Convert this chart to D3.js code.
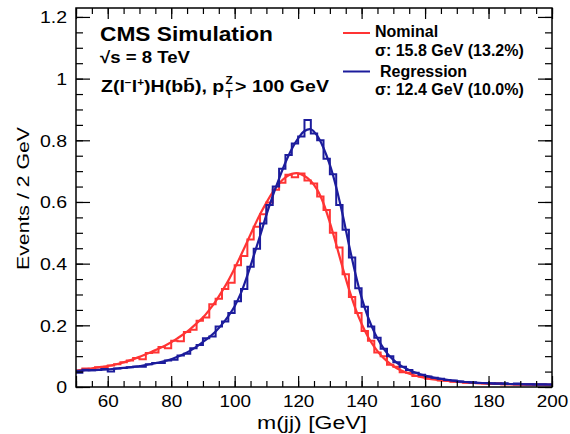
<!DOCTYPE html>
<html>
<head>
<meta charset="utf-8">
<script src="https://cdn.jsdelivr.net/npm/d3@7"></script>
<style>
  html, body { margin: 0; padding: 0; background: #fff; }
  svg { display: block; }
  text { font-family: "Liberation Sans", Arial, Helvetica, sans-serif; fill: #000; }
</style>
</head>
<body>
<svg id="chart" width="570" height="434"></svg>
<script>
// ---------------- data ----------------
const binWidth = 2;
const binLow = d3.range(50, 200, binWidth);   // 75 bins, 50..200 GeV

const nominalHist = [
  0.050, 0.060, 0.058, 0.064, 0.062, 0.070, 0.074, 0.080, 0.086, 0.094,
  0.090, 0.110, 0.112, 0.130, 0.126, 0.150, 0.148, 0.178, 0.186, 0.215,
  0.225, 0.268, 0.286, 0.318, 0.338, 0.395, 0.425, 0.478, 0.520, 0.560,
  0.598, 0.640, 0.662, 0.688, 0.680, 0.692, 0.670, 0.660, 0.618, 0.574,
  0.500, 0.452, 0.366, 0.292, 0.240, 0.182, 0.150, 0.112, 0.100, 0.072,
  0.066, 0.048, 0.046, 0.036, 0.034, 0.027, 0.025, 0.021, 0.020, 0.017,
  0.016, 0.014, 0.013, 0.012, 0.011, 0.010, 0.012, 0.009, 0.010, 0.008,
  0.009, 0.008, 0.007, 0.008, 0.007
];
const regressionHist = [
  0.046, 0.056, 0.054, 0.055, 0.058, 0.050, 0.060, 0.062, 0.064, 0.066,
  0.066, 0.074, 0.078, 0.078, 0.086, 0.088, 0.102, 0.108, 0.126, 0.136,
  0.158, 0.164, 0.196, 0.212, 0.240, 0.278, 0.318, 0.390, 0.448, 0.530,
  0.590, 0.650, 0.708, 0.752, 0.790, 0.812, 0.866, 0.822, 0.800, 0.740,
  0.690, 0.590, 0.510, 0.420, 0.320, 0.260, 0.196, 0.160, 0.124, 0.100,
  0.080, 0.066, 0.055, 0.046, 0.040, 0.034, 0.030, 0.027, 0.023, 0.021,
  0.018, 0.016, 0.015, 0.013, 0.013, 0.012, 0.011, 0.012, 0.010, 0.011,
  0.009, 0.009, 0.008, 0.008, 0.008
];

const fitX = d3.range(50, 201, 2);   // 76 sample points of the fitted curves
const nominalFit = [
  0.053, 0.056, 0.059, 0.062, 0.065, 0.068, 0.072, 0.077, 0.083, 0.090,
  0.098, 0.106, 0.115, 0.124, 0.134, 0.145, 0.158, 0.172, 0.188, 0.206,
  0.225, 0.250, 0.278, 0.310, 0.345, 0.385, 0.428, 0.472, 0.517, 0.560,
  0.598, 0.632, 0.660, 0.680, 0.691, 0.693, 0.684, 0.668, 0.640, 0.595,
  0.533, 0.462, 0.388, 0.318, 0.256, 0.205, 0.163, 0.130, 0.104, 0.084,
  0.068, 0.056, 0.047, 0.040, 0.034, 0.030, 0.026, 0.023, 0.021, 0.019,
  0.017, 0.015, 0.014, 0.013, 0.012, 0.011, 0.010, 0.0095, 0.009, 0.0085,
  0.008, 0.0078, 0.0076, 0.0074, 0.0072, 0.007
];
const regressionFit = [
  0.052, 0.053, 0.054, 0.055, 0.056, 0.057, 0.059, 0.061, 0.063, 0.065,
  0.068, 0.071, 0.075, 0.079, 0.084, 0.090, 0.098, 0.107, 0.118, 0.131,
  0.146, 0.162, 0.180, 0.203, 0.230, 0.262, 0.305, 0.362, 0.425, 0.490,
  0.558, 0.620, 0.676, 0.728, 0.772, 0.806, 0.830, 0.836, 0.815, 0.775,
  0.720, 0.648, 0.560, 0.462, 0.370, 0.290, 0.227, 0.178, 0.140, 0.110,
  0.088, 0.072, 0.060, 0.050, 0.043, 0.037, 0.032, 0.028, 0.025, 0.022,
  0.019, 0.017, 0.015, 0.014, 0.013, 0.012, 0.011, 0.0105, 0.010, 0.0095,
  0.009, 0.0088, 0.0086, 0.0084, 0.0082, 0.008
];

const xMajorTicks = [60, 80, 100, 120, 140, 160, 180, 200];
const xMinorTicks = d3.range(50, 201, 5);
const yMajorTicks = [0, 0.2, 0.4, 0.6, 0.8, 1.0, 1.2];
const yMinorTicks = d3.range(0, 1.2001, 0.05);
const yTickLabels = ["0", "0.2", "0.4", "0.6", "0.8", "1", "1.2"];

const legendLabels = ["Nominal", "Regression"];
const legendSigma = ["\u03c3: 15.8 GeV (13.2%)", "\u03c3: 12.4 GeV (10.0%)"];
const colors = ["#ff3434", "#1c1c9c"];

// ---------------- layout ----------------
const svg = d3.select("#chart");
const L = 76, R = 552, T = 8, B = 387;
const x = d3.scaleLinear().domain([50, 200]).range([L, R]);
const y = d3.scaleLinear().domain([0, 1.229]).range([B, T]);

svg.append("defs").append("clipPath").attr("id", "clip")
  .append("rect").attr("x", L).attr("y", T).attr("width", R - L).attr("height", B - T);

const plot = svg.append("g").attr("clip-path", "url(#clip)");

function histPts(vals) {
  const pts = binLow.map((lo, i) => [lo, vals[i]]);
  pts.push([200, vals[vals.length - 1]]);
  return pts;
}
const stepLine = d3.line().x(d => x(d[0])).y(d => y(d[1])).curve(d3.curveStepAfter);
const fitLine = d3.line().x((d, i) => x(fitX[i])).y(d => y(d)).curve(d3.curveCatmullRom.alpha(0.5));

[[nominalHist, nominalFit, colors[0]], [regressionHist, regressionFit, colors[1]]].forEach(([h, f, c]) => {
  plot.append("path").attr("d", stepLine(histPts(h)))
    .attr("fill", "none").attr("stroke", c).attr("stroke-width", 2);
  plot.append("path").attr("d", fitLine(f))
    .attr("fill", "none").attr("stroke", c).attr("stroke-width", 2.2);
});

// ---------------- axes ----------------
const fmtX = d3.format("d");
// bottom
const xAxisB = d3.axisBottom(x).tickValues(xMajorTicks).tickSize(0).tickPadding(0).tickFormat(fmtX);
const gxB = svg.append("g").attr("transform", `translate(0,${B})`).call(xAxisB);
gxB.select(".domain").remove();
gxB.selectAll("text").attr("y", 20).attr("dy", 0)
  .style("font-size", "16px").attr("transform", "scale(1.18,1)");
// minor/major ticks drawn with axis generators (inward)
function ticksFor(axisGen, scale, vals, size, transform) {
  const g = svg.append("g").attr("transform", transform)
    .call(axisGen(scale).tickValues(vals).tickSize(size).tickFormat(""));
  g.select(".domain").remove();
  g.selectAll("line").attr("stroke", "#000").attr("stroke-width", 1.2);
}
const xMajorAll = [50].concat(xMajorTicks);
ticksFor(d3.axisTop, x, xMinorTicks, 6, `translate(0,${B})`);
ticksFor(d3.axisTop, x, xMajorAll, 11, `translate(0,${B})`);
ticksFor(d3.axisBottom, x, xMinorTicks, 6, `translate(0,${T})`);
ticksFor(d3.axisBottom, x, xMajorAll, 11, `translate(0,${T})`);
ticksFor(d3.axisRight, y, yMinorTicks, 7, `translate(${L},0)`);
ticksFor(d3.axisRight, y, yMajorTicks, 14, `translate(${L},0)`);
ticksFor(d3.axisLeft, y, yMinorTicks, 7, `translate(${R},0)`);
ticksFor(d3.axisLeft, y, yMajorTicks, 14, `translate(${R},0)`);

// left labels
const yAxisL = d3.axisLeft(y).tickValues(yMajorTicks).tickSize(0).tickPadding(0)
  .tickFormat((d, i) => yTickLabels[i]);
const gyL = svg.append("g").attr("transform", `translate(${L},0)`).call(yAxisL);
gyL.select(".domain").remove();
gyL.selectAll("text").attr("x", 0).attr("dy", "0.36em").attr("text-anchor", "end")
  .style("font-size", "16px").attr("transform", "translate(-9,0) scale(1.22,1)");

// frame
svg.append("rect").attr("x", L).attr("y", T).attr("width", R - L).attr("height", B - T)
  .attr("fill", "none").attr("stroke", "#000").attr("stroke-width", 1.5);

// titles
svg.append("text").attr("x", 257).attr("y", 429)
  .attr("textLength", 110).attr("lengthAdjust", "spacingAndGlyphs")
  .style("font-size", "18px").text("m(jj) [GeV]");
svg.append("text").attr("transform", "translate(29,127) rotate(-90)")
  .attr("text-anchor", "end").attr("textLength", 143).attr("lengthAdjust", "spacingAndGlyphs")
  .style("font-size", "16.5px").text("Events / 2 GeV");

// annotations
svg.append("text").attr("x", 100).attr("y", 40.5)
  .attr("textLength", 173).attr("lengthAdjust", "spacingAndGlyphs")
  .style("font-size", "21px").style("font-weight", "bold").text("CMS Simulation");
svg.append("text").attr("x", 100).attr("y", 63)
  .attr("textLength", 90).attr("lengthAdjust", "spacingAndGlyphs")
  .style("font-size", "16.5px").style("font-weight", "bold").text("\u221as = 8 TeV");

const zg = svg.append("g");
const zt = zg.append("text").attr("x", 0).attr("y", 0)
  .style("font-size", "16.5px").style("font-weight", "bold");
zt.append("tspan").text("Z(l");
zt.append("tspan").attr("dy", -6).style("font-size", "10px").text("\u2212");
zt.append("tspan").attr("dy", 6).text("l");
zt.append("tspan").attr("dy", -6).style("font-size", "10px").text("+");
zt.append("tspan").attr("dy", 6).text(")H(b");
zt.append("tspan").text("b\u0304");
zt.append("tspan").text("), p");
const pw = zt.node().getComputedTextLength();
zg.append("text").attr("x", pw + 1).attr("y", 6).style("font-size", "10px").style("font-weight", "bold").text("T");
zg.append("text").attr("x", pw + 1).attr("y", -8).style("font-size", "10px").style("font-weight", "bold").text("Z");
zg.append("text").attr("x", pw + 9).attr("y", 0).style("font-size", "16.5px").style("font-weight", "bold")
  .text(" > 100 GeV");
const zb = zg.node().getBBox();
zg.attr("transform", `translate(101,92) scale(${228 / zb.width},1)`);

// legend
[0, 1].forEach(i => {
  const ly = [33, 71.5][i];
  svg.append("line").attr("x1", 343).attr("x2", 370).attr("y1", ly).attr("y2", ly)
    .attr("stroke", colors[i]).attr("stroke-width", 2);
  svg.append("text").attr("x", [375, 380][i]).attr("y", [37, 77][i])
    .style("font-size", "16px").style("font-weight", "bold").text(legendLabels[i]);
  svg.append("text").attr("x", 375).attr("y", [55.5, 94.5][i])
    .style("font-size", "16px").style("font-weight", "bold").text(legendSigma[i]);
});
</script>
</body>
</html>
